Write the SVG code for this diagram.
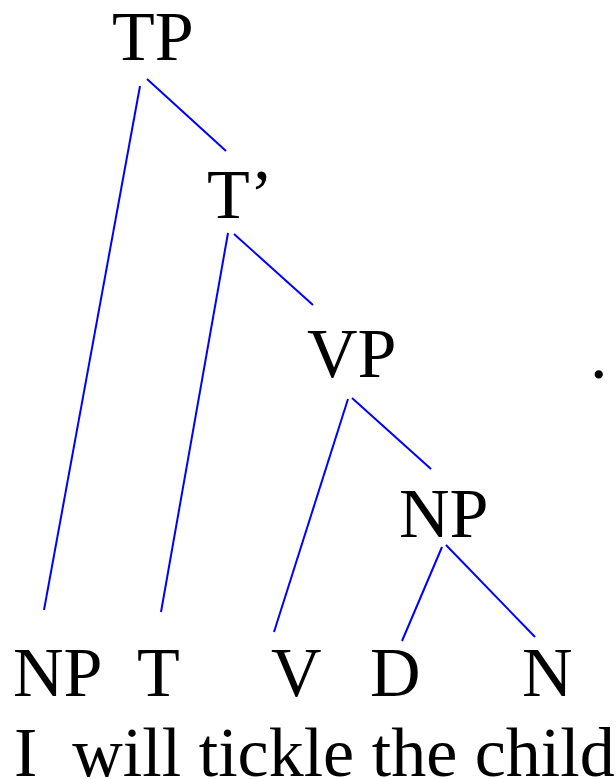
<svg xmlns="http://www.w3.org/2000/svg" width="616" height="779" viewBox="0 0 616 779">
<style>
text{font-family:"Liberation Serif","Times New Roman",serif;font-size:70px;fill:#000}
.e{stroke:#0000ff;stroke-width:2;fill:none}
</style>
<rect width="616" height="779" fill="#fff"/>
<g id="edges">
<line class="e" x1="140" y1="86" x2="44" y2="610"/>
<line class="e" x1="147" y1="79" x2="226" y2="151"/>
<line class="e" x1="228" y1="233" x2="161" y2="612"/>
<line class="e" x1="234" y1="234" x2="313" y2="305"/>
<line class="e" x1="348" y1="399" x2="274" y2="632"/>
<line class="e" x1="352" y1="398" x2="431" y2="469"/>
<line class="e" x1="442" y1="547" x2="402" y2="641"/>
<line class="e" x1="446" y1="545" x2="535" y2="637"/>
</g>
<g id="TP"><text x="112" y="60">TP</text></g>
<g id="Tbar"><text x="207" y="218">T’</text></g>
<g id="VP"><text x="307" y="377">VP</text></g>
<g id="NP2"><text x="399" y="537">NP</text></g>
<g id="NP1"><text x="13" y="696">NP</text></g>
<g id="T"><text x="137" y="696">T</text></g>
<g id="V"><text x="271" y="696">V</text></g>
<g id="D"><text x="370" y="696">D</text></g>
<g id="N"><text x="522" y="696">N</text></g>
<g id="words"><text x="14" y="776" xml:space="preserve">I  will tickle the child</text></g>
<g id="dot"><text x="590" y="378">.</text></g>
</svg>
